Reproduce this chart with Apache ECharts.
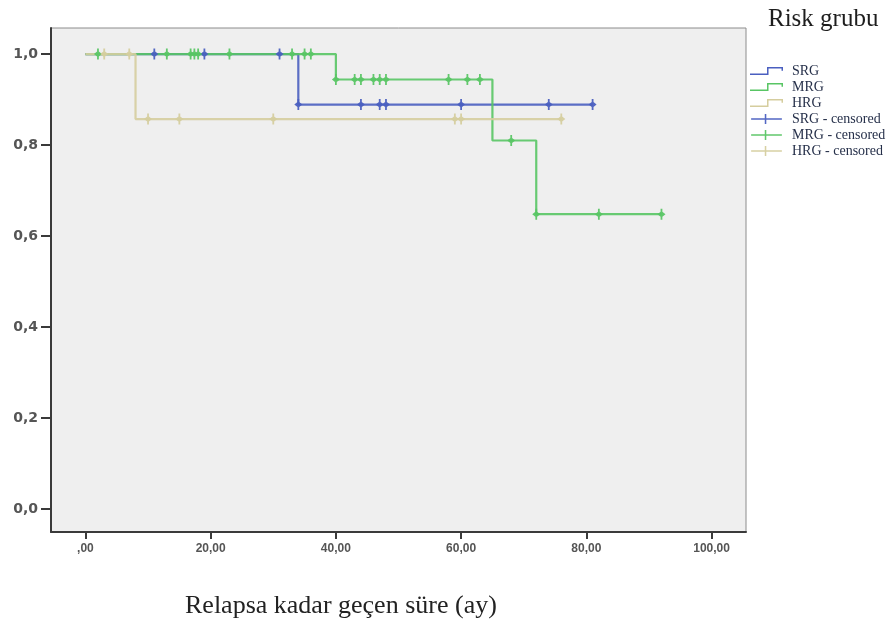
<!DOCTYPE html>
<html>
<head>
<meta charset="utf-8">
<script src="https://cdn.jsdelivr.net/npm/echarts@6/dist/echarts.min.js"></script>
<style>
  html, body { margin: 0; padding: 0; background: #ffffff; }
  #chart { width: 891px; height: 624px; }
</style>
</head>
<body>
<div id="chart"></div>
<script>
// Kaplan-Meier relapse-free estimates by risk group (time in months)
const groupNames = ['SRG', 'MRG', 'HRG'];
const groupColors = ['#4a5fc0', '#58c564', '#d5cd9e'];

// step points: time of each step and cumulative survival after it
const srgTimes = [0, 34, 81];
const srgSurv = [1.0, 0.889, 0.889];
const mrgTimes = [0, 40, 65, 72, 92];
const mrgSurv = [1.0, 0.944, 0.81, 0.648, 0.648];
const hrgTimes = [0, 8, 76];
const hrgSurv = [1.0, 0.857, 0.857];

// censored observations
const srgCensored = [11, 19, 31, 34, 44, 47, 48, 60, 74, 81];
const mrgCensored = [2, 13, 16.8, 17.4, 18, 23, 33, 35, 36, 40, 43, 44, 46, 47, 48, 58, 61, 63, 68, 72, 82, 92];
const hrgCensored = [3, 7, 10, 15, 30, 59, 60, 76];

const xTicks = [0, 20, 40, 60, 80, 100];
const yTicks = [0, 0.2, 0.4, 0.6, 0.8, 1.0];

const stepSets = [[srgTimes, srgSurv], [mrgTimes, mrgSurv], [hrgTimes, hrgSurv]];
const censorSets = [srgCensored, mrgCensored, hrgCensored];

// survival level of a group's step curve at time t
function survAt(times, surv, t) {
  let s = surv[0];
  for (let i = 0; i < times.length; i++) {
    if (t >= times[i]) s = surv[i];
  }
  return s;
}

const stepIcon = 'path://M0,8 L16,8 L16,2 L31,2 L31,5.5 L29.6,5.5 L29.6,3.4 L17.4,3.4 L17.4,9.4 L0,9.4 Z';
const censorIcon = 'path://M0,5 L32,5 L32,6.4 L0,6.4 Z M14.2,0.5 L15.8,0.5 L15.8,10.9 L14.2,10.9 Z';
const censorSymbol = 'path://M4,0 L6,0 L6,3 L9.5,5.5 L6,8 L6,11 L4,11 L4,8 L0.5,5.5 L4,3 Z';

const series = [];
stepSets.forEach(([times, surv], i) => {
  series.push({
    name: groupNames[i],
    type: 'line',
    step: 'end',
    data: times.map((t, k) => [t, surv[k]]),
    showSymbol: false,
    symbol: 'none',
    lineStyle: { color: groupColors[i], width: 2.2, opacity: 0.9 },
    itemStyle: { color: groupColors[i] },
    z: 2,
    silent: true
  });
});
censorSets.forEach((cens, i) => {
  const [times, surv] = stepSets[i];
  series.push({
    name: groupNames[i] + ' - censored',
    type: 'scatter',
    data: cens.map(t => [t, survAt(times, surv, t)]),
    symbol: censorSymbol,
    symbolSize: [8, 11],
    itemStyle: { color: groupColors[i], opacity: 0.95 },
    z: 3,
    silent: true
  });
});

const chart = echarts.init(document.getElementById('chart'), null, { renderer: 'canvas' });
chart.setOption({
  animation: false,
  backgroundColor: '#ffffff',
  title: [
    {
      text: 'Risk grubu',
      left: 763, top: 2,
      textStyle: { fontFamily: 'Liberation Serif', fontSize: 25, fontWeight: 'normal', color: '#1e1e1e' }
    },
    {
      text: 'Relapsa kadar geçen süre (ay)',
      left: 180, top: 588,
      textStyle: { fontFamily: 'Liberation Serif', fontSize: 26, fontWeight: 'normal', color: '#222222' }
    }
  ],
  legend: {
    orient: 'vertical',
    left: 745, top: 59,
    itemWidth: 33, itemHeight: 10,
    itemGap: 2,
    data: [
      { name: 'SRG', icon: stepIcon },
      { name: 'MRG', icon: stepIcon },
      { name: 'HRG', icon: stepIcon },
      { name: 'SRG - censored', icon: censorIcon },
      { name: 'MRG - censored', icon: censorIcon },
      { name: 'HRG - censored', icon: censorIcon }
    ],
    itemStyle: { borderWidth: 0 },
    textStyle: { fontFamily: 'Liberation Serif', fontSize: 14, lineHeight: 14, color: '#26304a', padding: [0, 0, 0, 4] }
  },
  grid: {
    left: 51, top: 28, width: 695, height: 504,
    show: true,
    backgroundColor: '#efefef',
    borderColor: '#8c8c8c',
    borderWidth: 1
  },
  xAxis: {
    type: 'value',
    min: -5.5, max: 105.5,
    axisLine: { show: true, onZero: false, lineStyle: { color: '#3a3a3a', width: 2 } },
    axisTick: { show: true, customValues: xTicks, length: 7, lineStyle: { color: '#3a3a3a', width: 2 } },
    axisLabel: {
      customValues: xTicks,
      margin: 11,
      fontFamily: 'Liberation Sans', fontSize: 12, fontWeight: 600, color: '#555555',
      formatter: v => v === 0 ? ',00' : v.toFixed(2).replace('.', ',')
    },
    splitLine: { show: false }
  },
  yAxis: {
    type: 'value',
    min: -0.0505, max: 1.0572,
    axisLine: { show: true, onZero: false, lineStyle: { color: '#3a3a3a', width: 2 } },
    axisTick: { show: true, customValues: yTicks, length: 10, lineStyle: { color: '#3a3a3a', width: 2 } },
    axisLabel: {
      customValues: yTicks,
      margin: 13,
      fontFamily: 'DejaVu Sans', fontSize: 14, fontWeight: 600, color: '#555555',
      formatter: v => v.toFixed(1).replace('.', ',')
    },
    splitLine: { show: false }
  },
  series: series
});
</script>
</body>
</html>
